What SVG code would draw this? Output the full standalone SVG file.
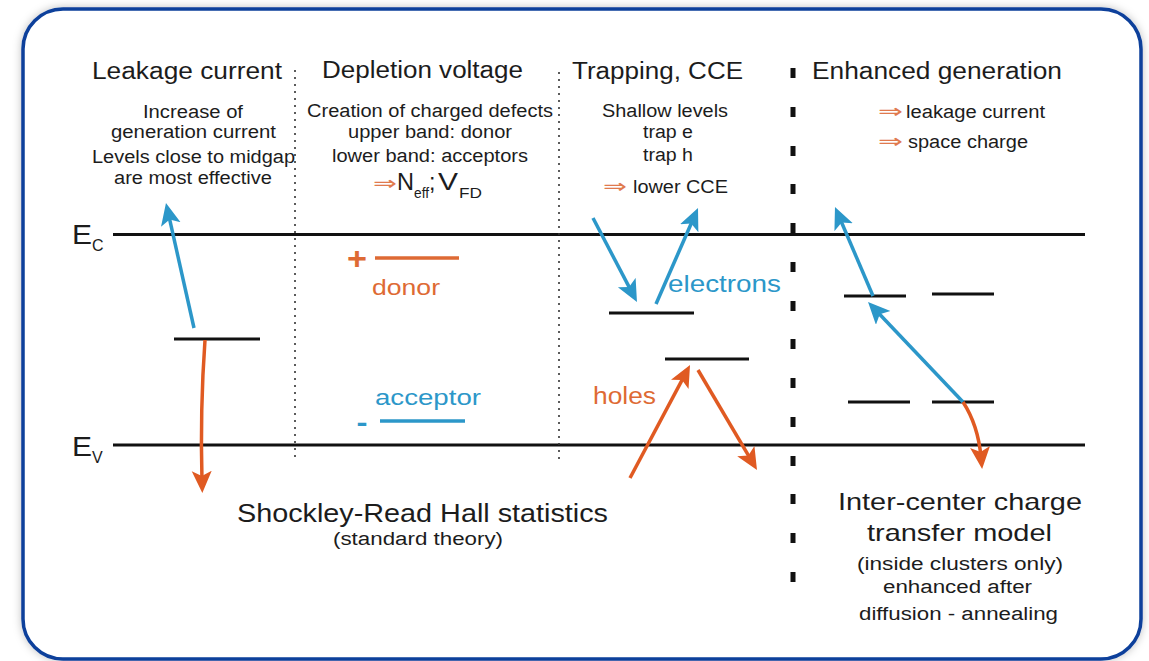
<svg xmlns="http://www.w3.org/2000/svg" width="1149" height="661" viewBox="0 0 1149 661">
<style>
text{font-family:"Liberation Sans",Arial,sans-serif;fill:#1c1c1c}
.t{font-size:23px}
.s{font-size:18px}
.b{font-size:24px}
.or{fill:#de6a34}
.bl{fill:#2c97c9}
.ar{font-family:"DejaVu Sans",sans-serif;fill:#e07a4e;font-size:20px}
.band{stroke:#111;stroke-width:3}
.lvl{stroke:#111;stroke-width:3}
.dot{stroke:#333;stroke-width:1.6;stroke-dasharray:2 5}
.ab{stroke:#2c97c9;stroke-width:3.5;fill:none;marker-end:url(#hb)}
.ao{stroke:#e05a22;stroke-width:3.5;fill:none;marker-end:url(#ho)}
</style>
<defs>
<filter id="sh" x="-5%" y="-5%" width="110%" height="110%">
<feDropShadow dx="0" dy="0" stdDeviation="4" flood-color="#000" flood-opacity="0.25"/>
</filter>
<marker id="hb" markerUnits="userSpaceOnUse" markerWidth="24" markerHeight="22" refX="10" refY="10" orient="auto">
<path d="M0,0 L22,10 L0,20 L5,10 z" fill="#2c97c9"/>
</marker>
<marker id="ho" markerUnits="userSpaceOnUse" markerWidth="24" markerHeight="22" refX="10" refY="10" orient="auto">
<path d="M0,0 L22,10 L0,20 L5,10 z" fill="#e05a22"/>
</marker>
</defs>
<rect width="1149" height="661" fill="#fff"/>
<g id="frame">
<rect x="23" y="9" width="1118" height="650" rx="40" ry="40" fill="#fff" stroke="#0b3f9b" stroke-width="3.5" filter="url(#sh)"/>
</g>
<g id="bands">
<line class="band" x1="113" y1="234.5" x2="1085" y2="234.5"/>
<line class="band" x1="113" y1="445" x2="1085" y2="445"/>
<text x="72" y="244" style="font-size:27px" textLength="20" lengthAdjust="spacingAndGlyphs">E</text>
<text x="92" y="251" style="font-size:16px">C</text>
<text x="72" y="456" style="font-size:27px" textLength="20" lengthAdjust="spacingAndGlyphs">E</text>
<text x="92" y="463" style="font-size:16px">V</text>
</g>
<g id="separators">
<line class="dot" x1="295" y1="70" x2="295" y2="461"/>
<line class="dot" x1="559" y1="72" x2="559" y2="462"/>
<g fill="#111">
<rect x="790.5" y="68" width="5" height="10"/>
<rect x="790.5" y="107" width="5" height="10"/>
<rect x="790.5" y="146" width="5" height="10"/>
<rect x="790.5" y="184" width="5" height="10"/>
<rect x="790.5" y="223" width="5" height="10"/>
<rect x="790.5" y="262" width="5" height="10"/>
<rect x="790.5" y="301" width="5" height="10"/>
<rect x="790.5" y="339" width="5" height="10"/>
<rect x="790.5" y="378" width="5" height="10"/>
<rect x="790.5" y="417" width="5" height="10"/>
<rect x="790.5" y="456" width="5" height="10"/>
<rect x="790.5" y="494" width="5" height="10"/>
<rect x="790.5" y="533" width="5" height="10"/>
<rect x="790.5" y="572" width="5" height="10"/>
</g>
</g>
<g id="col-leakage">
<text class="t" x="92" y="79" textLength="190" lengthAdjust="spacingAndGlyphs">Leakage current</text>
<text class="s" x="143" y="118" textLength="100" lengthAdjust="spacingAndGlyphs">Increase of</text>
<text class="s" x="111" y="138" textLength="165" lengthAdjust="spacingAndGlyphs">generation current</text>
<text class="s" x="92" y="163" textLength="203" lengthAdjust="spacingAndGlyphs">Levels close to midgap</text>
<text class="s" x="114" y="184" textLength="158" lengthAdjust="spacingAndGlyphs">are most effective</text>
<line class="lvl" x1="174" y1="339" x2="260" y2="339"/>
</g>
<g id="col-depletion">
<text class="t" x="322" y="78" textLength="201" lengthAdjust="spacingAndGlyphs">Depletion voltage</text>
<text class="s" x="307" y="117" textLength="246" lengthAdjust="spacingAndGlyphs">Creation of charged defects</text>
<text class="s" x="348" y="138" textLength="164" lengthAdjust="spacingAndGlyphs">upper band: donor</text>
<text class="s" x="332" y="162" textLength="196" lengthAdjust="spacingAndGlyphs">lower band: acceptors</text>
<text class="ar" x="373" y="190" textLength="24" lengthAdjust="spacingAndGlyphs">⇒</text>
<text x="397" y="190" style="font-size:23px" textLength="17" lengthAdjust="spacingAndGlyphs">N</text>
<text x="414" y="198" style="font-size:14px" textLength="15" lengthAdjust="spacingAndGlyphs">eff</text>
<text x="429" y="190" style="font-size:23px">;</text>
<text x="438" y="190" style="font-size:23px" textLength="20" lengthAdjust="spacingAndGlyphs">V</text>
<text x="459" y="198" style="font-size:14px" textLength="23" lengthAdjust="spacingAndGlyphs">FD</text>
<text class="or" x="357" y="269" text-anchor="middle" style="font-size:32px;font-weight:bold" textLength="20" lengthAdjust="spacingAndGlyphs">+</text>
<line x1="375" y1="258" x2="459" y2="258" stroke="#de6a34" stroke-width="3.5"/>
<text class="or" x="372" y="295" style="font-size:22px" textLength="68" lengthAdjust="spacingAndGlyphs">donor</text>
<text class="bl" x="375" y="405" style="font-size:22px" textLength="106" lengthAdjust="spacingAndGlyphs">acceptor</text>
<text class="bl" x="362" y="432" text-anchor="middle" style="font-size:28px;font-weight:bold" textLength="11" lengthAdjust="spacingAndGlyphs">-</text>
<line x1="380" y1="421" x2="465" y2="421" stroke="#2c97c9" stroke-width="3.5"/>
</g>
<g id="col-trapping">
<text class="t" x="572" y="79" textLength="171" lengthAdjust="spacingAndGlyphs">Trapping, CCE</text>
<text class="s" x="602" y="117" textLength="126" lengthAdjust="spacingAndGlyphs">Shallow levels</text>
<text class="s" x="643" y="138" textLength="50" lengthAdjust="spacingAndGlyphs">trap e</text>
<text class="s" x="643" y="161" textLength="50" lengthAdjust="spacingAndGlyphs">trap h</text>
<text class="ar" x="603" y="193" textLength="24" lengthAdjust="spacingAndGlyphs">⇒</text>
<text class="s" x="633" y="193" textLength="95" lengthAdjust="spacingAndGlyphs">lower CCE</text>
<line class="lvl" x1="609" y1="313" x2="694" y2="313"/>
<line class="lvl" x1="665" y1="359" x2="749" y2="359"/>
<text class="bl" x="668" y="292" style="font-size:24px" textLength="113" lengthAdjust="spacingAndGlyphs">electrons</text>
<text class="or" x="593" y="404" style="font-size:23px" textLength="63" lengthAdjust="spacingAndGlyphs">holes</text>
</g>
<g id="col-enhanced">
<text class="t" x="812" y="79" textLength="250" lengthAdjust="spacingAndGlyphs">Enhanced generation</text>
<text class="ar" x="878" y="118" textLength="25" lengthAdjust="spacingAndGlyphs">⇒</text>
<text class="s" x="906" y="118" textLength="139" lengthAdjust="spacingAndGlyphs">leakage current</text>
<text class="ar" x="878" y="148" textLength="25" lengthAdjust="spacingAndGlyphs">⇒</text>
<text class="s" x="908" y="148" textLength="120" lengthAdjust="spacingAndGlyphs">space charge</text>
<line class="lvl" x1="844" y1="296" x2="906" y2="296"/>
<line class="lvl" x1="932" y1="294" x2="994" y2="294"/>
<line class="lvl" x1="848" y1="402" x2="910" y2="402"/>
<line class="lvl" x1="932" y1="402" x2="994" y2="402"/>
</g>
<g id="captions">
<text class="b" x="237" y="522" style="font-size:25px" textLength="371" lengthAdjust="spacingAndGlyphs">Shockley-Read Hall statistics</text>
<text class="s" x="333" y="545" textLength="170" lengthAdjust="spacingAndGlyphs">(standard theory)</text>
<text class="b" x="838" y="510" textLength="244" lengthAdjust="spacingAndGlyphs">Inter-center charge</text>
<text class="b" x="867" y="541" textLength="185" lengthAdjust="spacingAndGlyphs">transfer model</text>
<text class="s" x="857" y="570" textLength="206" lengthAdjust="spacingAndGlyphs">(inside clusters only)</text>
<text class="s" x="883" y="593" textLength="149" lengthAdjust="spacingAndGlyphs">enhanced after</text>
<text class="s" x="859" y="620" textLength="199" lengthAdjust="spacingAndGlyphs">diffusion - annealing</text>
</g>
<g id="connectors">
<line class="ab" x1="194" y1="328" x2="168.6" y2="214.7"/>
<path class="ao" d="M205,340 Q200,410 202,481"/>
<line class="ab" x1="593" y1="218" x2="631.4" y2="291.4"/>
<line class="ab" x1="656" y1="304" x2="693.2" y2="219"/>
<line class="ao" x1="630" y1="478" x2="684.4" y2="375.6"/>
<line class="ao" x1="698" y1="370" x2="750.9" y2="459.7"/>
<line class="ab" x1="873" y1="296" x2="839.7" y2="218"/>
<line class="ab" x1="963" y1="402" x2="876.3" y2="310.7"/>
<path class="ao" d="M963,402 Q978,425 981,457"/>
</g>
</svg>
